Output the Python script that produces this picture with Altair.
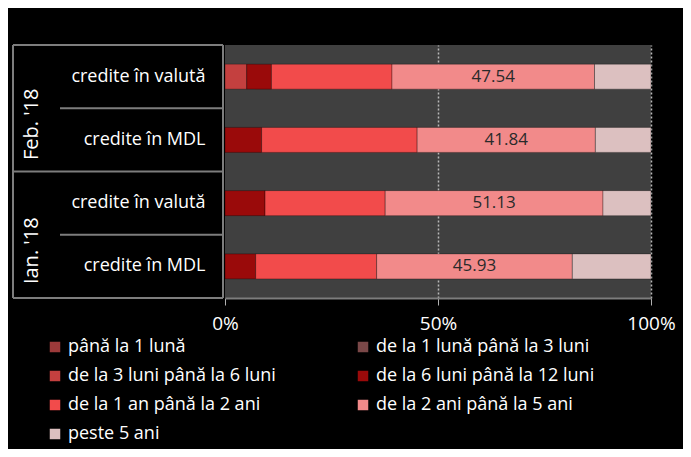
import altair as alt
import pandas as pd

# ---- data ----
rows = ["Feb. '18|credite în valută", "Feb. '18|credite în MDL",
        "Ian. '18|credite în valută", "Ian. '18|credite în MDL"]
categories = ["până la 1 lună", "de la 1 lună până la 3 luni",
              "de la 3 luni până la 6 luni", "de la 6 luni până la 12 luni",
              "de la 1 an până la 2 ani", "de la 2 ani până la 5 ani",
              "peste 5 ani"]
colors = ["#9c3a3a", "#7a4848", "#c4403f", "#9a0a0a", "#f24b4b", "#f28a8a", "#dcc0c0"]

feb_valuta = [0, 0, 5.1, 5.8, 28.3, 47.54, 13.26]
feb_mdl = [0, 0, 0, 8.6, 36.5, 41.84, 13.06]
ian_valuta = [0, 0, 0, 9.4, 28.2, 51.13, 11.27]
ian_mdl = [0, 0, 0, 7.2, 28.4, 45.93, 18.47]
series = [feb_valuta, feb_mdl, ian_valuta, ian_mdl]

groups = ["Feb. '18", "Ian. '18"]
group_first_row = [rows[0], rows[2]]
group_second_row = [rows[1], rows[3]]
inner_rows = [rows[1], rows[3]]

records = []
for r, vals in zip(rows, series):
    for i, (c, v) in enumerate(zip(categories, vals)):
        records.append({"row": r, "cat": c, "order": i, "value": v})
df = pd.DataFrame(records)

W, H = 426, 253
LINE = "#7d7d7d"
FONT = "Open Sans"

yenc = alt.Y("row:N", sort=rows,
             scale=alt.Scale(domain=rows, paddingInner=0, paddingOuter=0),
             axis=alt.Axis(title=None, labelExpr="split(datum.label, '|')[1]",
                           labelColor="white", labelFontSize=18, labelFont=FONT,
                           labelPadding=20, ticks=False, domain=False))

base = alt.Chart(df).transform_filter("datum.value > 0").transform_stack(
    stack="value", groupby=["row"], as_=["x0", "x1"],
    sort=[alt.SortField("order", order="ascending")])

bars = base.mark_bar(height=25, stroke="#000000", strokeOpacity=0.3, strokeWidth=1).encode(
    x=alt.X("x0:Q", scale=alt.Scale(domain=[0, 100], nice=False),
            axis=alt.Axis(title=None, values=[0, 50, 100], labelExpr="datum.value + '%'",
                          labelColor="white", labelFontSize=19, labelFont=FONT,
                          labelFlush=False,
                          labelPadding=9, tickSize=7, tickColor="#b0b0b0",
                          domainColor=LINE, domainWidth=2,
                          grid=True, gridDash=[2, 2], gridColor="#b8b8b8", gridWidth=1.5,
                          gridOpacity={"condition": {"test": "datum.value === 0", "value": 0}, "value": 1})),
    x2="x1:Q",
    y=yenc,
    color=alt.Color("cat:N", scale=alt.Scale(domain=categories, range=colors),
                    legend=alt.Legend(title=None, orient="none", legendX=-179, legendY=293,
                                      direction="horizontal",
                                      columns=2, columnPadding=78, rowPadding=11,
                                      symbolType="square", symbolSize=110,
                                      symbolStrokeWidth=0,
                                      labelColor="white", labelFontSize=18, labelFont=FONT,
                                      labelLimit=300)),
    order=alt.Order("order:Q"),
)

labels = base.transform_filter(
    alt.datum.cat == categories[5]).transform_calculate(
    mid="(datum.x0 + datum.x1) / 2").mark_text(
    fontSize=17, font=FONT, color="#2a2a2a").encode(
    x="mid:Q", y=alt.Y("row:N", sort=rows), text=alt.Text("value:Q", format=".2f"))

# structural lines of the row-label box
sep_long = pd.DataFrame({"row": group_first_row})
sep_short = pd.DataFrame({"row": inner_rows})
long_lines = alt.Chart(sep_long).mark_rule(color=LINE, strokeWidth=2).encode(
    y=alt.Y("row:N", sort=rows, bandPosition=0), x=alt.value(-212), x2=alt.value(-2))
short_lines = alt.Chart(sep_short).mark_rule(color=LINE, strokeWidth=2).encode(
    y=alt.Y("row:N", sort=rows, bandPosition=0), x=alt.value(-165), x2=alt.value(-2))
bottom_line = alt.Chart(pd.DataFrame({"row": [rows[-1]]})).mark_rule(color=LINE, strokeWidth=2).encode(
    y=alt.Y("row:N", sort=rows, bandPosition=1), x=alt.value(-212), x2=alt.value(-2))
vlines = alt.Chart(pd.DataFrame({"p": [-212, -2]})).mark_rule(color=LINE, strokeWidth=2).encode(
    x=alt.X("p:Q", scale=None), y=alt.value(0), y2=alt.value(H))

group_text = alt.Chart(pd.DataFrame({"g": groups, "row": group_second_row})).mark_text(
    angle=270, align="center", baseline="middle", dx=-16, fontSize=20, font=FONT, color="white").encode(
    y=alt.Y("row:N", sort=rows, bandPosition=0), x=alt.value(-193), text="g:N")

chart = alt.layer(bars, labels, long_lines, short_lines, bottom_line, vlines, group_text).properties(
    width=W, height=H,
    autosize=alt.AutoSizeParams(type="none"),
    padding={"left": 217, "top": 37, "right": 32, "bottom": 151},
    background="#000000",
).configure_view(fill="#404040", stroke=None)

chart.save("out.html", embed_options={"renderer": "svg", "actions": False})
